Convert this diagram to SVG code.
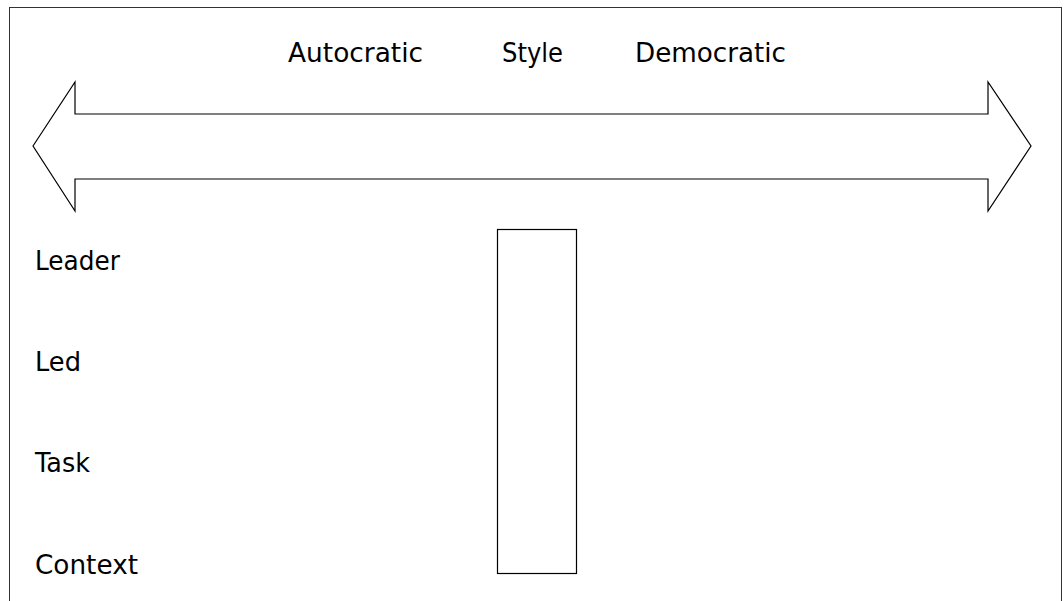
<svg xmlns="http://www.w3.org/2000/svg" width="1064" height="601" viewBox="0 0 1064 601">
<style>
.ln{fill:#fff;stroke:#000;stroke-width:1.2}
.t{font-family:"DejaVu Sans",sans-serif;font-size:26px;fill:#000}
</style>
<rect x="0" y="0" width="1064" height="601" fill="#fff"/>
<rect x="9.5" y="7.5" width="1052" height="620" fill="none" stroke="#333" stroke-width="1"/>
<g id="connectors">
<polygon id="arrow" class="ln" points="33,146 75,82 75,114 988,114 988,82 1031,146 988,211 988,179 75,179 75,211"/>
</g>
<g id="header">
<text class="t" x="288" y="62" textLength="135" lengthAdjust="spacingAndGlyphs">Autocratic</text>
<text class="t" x="502" y="62" textLength="61" lengthAdjust="spacingAndGlyphs">Style</text>
<text class="t" x="635" y="62" textLength="151" lengthAdjust="spacingAndGlyphs">Democratic</text>
</g>
<g id="bar"><rect class="ln" x="497.5" y="229.5" width="79" height="344"/></g>
<g id="labels">
<text class="t" x="35" y="270" textLength="85" lengthAdjust="spacingAndGlyphs">Leader</text>
<text class="t" x="35" y="371" textLength="46" lengthAdjust="spacingAndGlyphs">Led</text>
<text class="t" x="35" y="472" textLength="55" lengthAdjust="spacingAndGlyphs">Task</text>
<text class="t" x="35" y="574" textLength="103" lengthAdjust="spacingAndGlyphs">Context</text>
</g>
</svg>
